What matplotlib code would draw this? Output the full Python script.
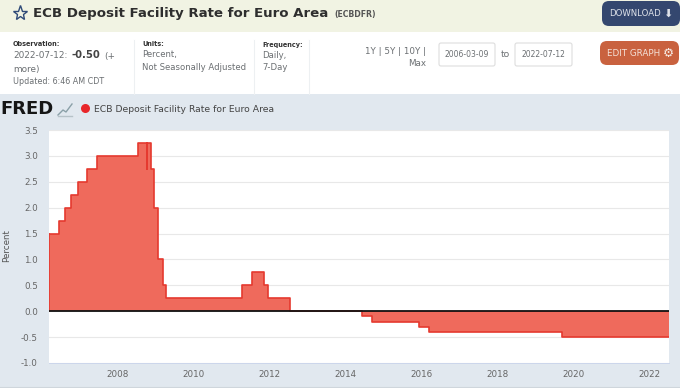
import matplotlib
matplotlib.use("Agg")
import matplotlib.pyplot as plt
import matplotlib.dates as mdates
from matplotlib.patches import Rectangle, FancyBboxPatch
import pandas as pd

change_dates = ["2006-03-09","2006-06-15","2006-08-09","2006-10-11","2006-12-13","2007-03-14",
                "2007-06-13","2008-07-09","2008-10-08","2008-10-09","2008-11-12","2008-12-10",
                "2009-01-21","2009-03-11","2009-04-08","2011-04-13","2011-07-13","2011-11-09",
                "2011-12-14","2012-07-11","2014-06-11","2014-09-10","2015-12-09","2016-03-16",
                "2019-09-18","2022-07-12"]
rates = [1.50,1.75,2.00,2.25,2.50,2.75,3.00,3.25,2.75,3.25,2.75,2.00,1.00,0.50,0.25,0.50,0.75,
         0.50,0.25,0.00,-0.10,-0.20,-0.30,-0.40,-0.50,-0.50]
y_ticks = [-1.0,-0.5,0.0,0.5,1.0,1.5,2.0,2.5,3.0,3.5]
x_tick_years = [2008,2010,2012,2014,2016,2018,2020,2022]
title = "ECB Deposit Facility Rate for Euro Area"

W, H = 680, 388
fig = plt.figure(figsize=(W/100, H/100), dpi=100, facecolor="white")
plt.rcParams["font.family"] = "DejaVu Sans"

bg = fig.add_axes([0, 0, 1, 1], zorder=0)
bg.set_xlim(0, W); bg.set_ylim(H, 0); bg.axis("off")
GR = "#6b6f72"
bg.add_patch(Rectangle((0, 0), W, 32, fc="#f1f3e3", ec="none"))
bg.add_patch(Rectangle((0, 94), W, H-94, fc="#e1e8ef", ec="none"))
for x in (134, 254, 309):
    bg.plot([x, x], [40, 94], color="#edf0f2", lw=0.8)
bg.plot(20, 13, marker="*", ms=11, mfc="none", mec="#2f4a78", mew=1)
bg.text(33, 13.5, title, fontsize=9.65, fontweight="bold", color="#2e2e2e", va="center")
bg.text(334, 14.5, "(ECBDFR)", fontsize=5.6, fontweight="bold", color="#555555", va="center")
bg.text(13, 44.5, "Observation:", fontsize=4.7, fontweight="bold", color="#333333", va="center")
bg.text(13, 56, "2022-07-12:", fontsize=6.4, color=GR, va="center")
bg.text(72, 55.5, "-0.50", fontsize=7.2, fontweight="bold", color="#444444", va="center")
bg.text(104, 57, "(+", fontsize=6.4, color=GR, va="center")
bg.text(13, 69.5, "more)", fontsize=6.4, color=GR, va="center")
bg.text(13, 82, "Updated: 6:46 AM CDT", fontsize=5.75, color=GR, va="center")
bg.text(142, 44.5, "Units:", fontsize=4.7, fontweight="bold", color="#333333", va="center")
bg.text(142, 55, "Percent,", fontsize=6.1, color=GR, va="center")
bg.text(142, 67, "Not Seasonally Adjusted", fontsize=6.1, color=GR, va="center")
bg.text(262, 44.5, "Frequency:", fontsize=4.7, fontweight="bold", color="#333333", va="center")
bg.text(262, 55, "Daily,", fontsize=6.1, color=GR, va="center")
bg.text(262, 67, "7-Day", fontsize=6.1, color=GR, va="center")
bg.text(426, 52, "1Y | 5Y | 10Y |", fontsize=6.3, color=GR, va="center", ha="right")
bg.text(426, 64, "Max", fontsize=6.3, color=GR, va="center", ha="right")
for x0, x1, s in ((437, 497, "2006-03-09"), (513, 574, "2022-07-12")):
    bg.add_patch(FancyBboxPatch((x0+2, 43), x1-x0-4, 23, boxstyle="round,pad=0,rounding_size=2",
                                fc="white", ec="#dddddd", lw=0.8))
    bg.text((x0+x1)/2, 54.5, s, fontsize=5.5, color=GR, ha="center", va="center")
bg.text(505, 54.5, "to", fontsize=6.6, color=GR, ha="center", va="center")
bg.add_patch(FancyBboxPatch((606, 5), 70, 17, boxstyle="round,pad=4,rounding_size=7",
                            fc="#34476f", ec="none"))
bg.text(609, 14, "DOWNLOAD", fontsize=6.1, color="#dfe3ea", va="center")
bg.text(668, 13.5, "\u2b07", fontsize=8, color="#dfe3ea", va="center", ha="center")
bg.add_patch(FancyBboxPatch((604, 45), 71, 16, boxstyle="round,pad=4,rounding_size=7",
                            fc="#c9623f", ec="none"))
bg.text(607, 53.5, "EDIT GRAPH", fontsize=6.3, color="#f4e1d8", va="center")
bg.text(668, 53, "\u2699", fontsize=9, color="#f7ebe4", va="center", ha="center")
bg.text(0, 108.5, "FRED", fontsize=13, fontweight="bold", color="#161616", va="center")
bg.plot([58, 63, 66, 72], [115, 110, 112, 104], color="#8aa0a8", lw=1)
bg.plot([58, 72], [116, 116], color="#b6c2c8", lw=1)
bg.plot(85, 107.5, marker="o", ms=6.5, color="#e8262a", mec="none")
bg.text(94, 109, title, fontsize=6.7, color="#444444", va="center")
bg.text(7, 246, "Percent", fontsize=6.3, color="#555555", rotation=90, ha="center", va="center")
bg.plot([0, W], [386.5, 386.5], color="#cfd6dc", lw=0.8)

x0, x1, ytop, ybot = 49, 669, 130, 363
ax = fig.add_axes([x0/W, 1-ybot/H, (x1-x0)/W, (ybot-ytop)/H], zorder=1, facecolor="white")
dates = pd.to_datetime(change_dates)
ax.fill_between(dates, rates, 0, step="post", color="#ef6a5c", lw=0, zorder=2)
ax.step(dates, rates, where="post", color="#e5392f", lw=1.2, zorder=3)
ax.plot([dates[0], dates[0]], [0, rates[0]], color="#e5392f", lw=1.2, zorder=3)
ax.plot([dates[-1], dates[-1]], [0, rates[-1]], color="#ef6a5c", lw=0.5, zorder=3)
ax.axhline(0, color="#111111", lw=1.3, zorder=4)
ax.set_xlim(pd.Timestamp("2006-03-09"), pd.Timestamp("2022-07-12"))
ax.set_ylim(-1.0, 3.5)
ax.set_yticks(y_ticks)
ax.set_yticklabels([f"{v:.1f}" for v in y_ticks], fontsize=6.3, color="#666666")
ax.set_xticks([mdates.date2num(pd.Timestamp(f"{y}-01-01")) for y in x_tick_years])
ax.set_xticklabels([str(y) for y in x_tick_years], fontsize=6.3, color="#666666")
ax.tick_params(axis="y", length=0, pad=8)
ax.tick_params(axis="x", length=0, pad=5)
ax.grid(axis="y", color="#e8e8e8", lw=0.8, zorder=1)
ax.set_axisbelow(True)
for s in ax.spines.values():
    s.set_visible(False)
ax.spines["bottom"].set_visible(True)
ax.spines["bottom"].set_color("#ccd6eb")
ax.spines["bottom"].set_linewidth(0.7)

fig.savefig("out.png", dpi=100)
